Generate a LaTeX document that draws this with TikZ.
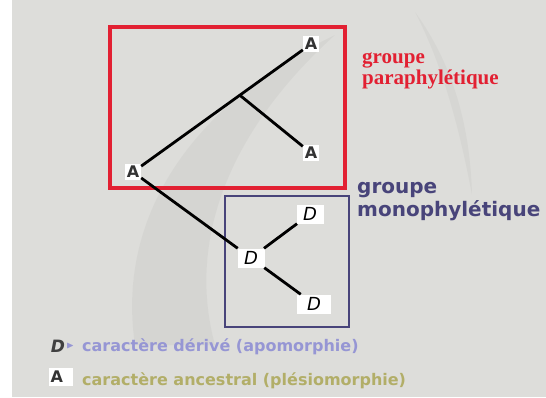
\documentclass[tikz,border=0pt]{standalone}
\usepackage{amssymb}
\usepackage{fontspec}
\setsansfont{DejaVu Sans}
\newfontfamily\paraFont{Liberation Serif}
\usetikzlibrary{positioning,calc}

\definecolor{bggray}{RGB}{221,221,218}
\definecolor{paraRed}{RGB}{226,32,50}
\definecolor{monoBlue}{RGB}{72,68,122}
\definecolor{apoLav}{RGB}{150,150,212}
\definecolor{plesioOlive}{RGB}{178,174,104}

\begin{document}
\begin{tikzpicture}[
  x=1pt, y=-1pt,
  taxonA/.style={fill=white, inner sep=1.8pt, text=black!80, font=\sffamily\bfseries\fontsize{16}{16}\selectfont},
  taxonD/.style={fill=white, inner sep=2.2pt, minimum width=27pt, minimum height=19pt,
    font=\sffamily\itshape\fontsize{18}{18}\selectfont},
  branch/.style={line width=2.8pt, black},
  paraText/.style={align=left, anchor=north west, inner sep=0pt, text=paraRed,
    font=\paraFont\bfseries\fontsize{21}{21}\selectfont},
  monoText/.style={align=left, anchor=north west, inner sep=0pt, text=monoBlue,
    font=\sffamily\bfseries\fontsize{20}{23}\selectfont},
  legendText/.style={anchor=west, inner sep=0pt, font=\sffamily\bfseries\fontsize{16}{16}\selectfont}
]
% background and faint logo
\fill[white] (0,0) rectangle (546,397);
\fill[bggray] (12,0) rectangle (546,397);
\useasboundingbox (0,0) rectangle (546,397);
\fill[gray, opacity=0.08] (135,345) .. controls (115,210) and (200,100) .. (335,35)
  .. controls (235,125) and (185,235) .. (215,345) -- cycle;
\fill[gray, opacity=0.07] (415,12) .. controls (450,60) and (470,120) .. (472,195)
  .. controls (458,120) and (440,60) .. (415,12) -- cycle;

% boxes
\draw[paraRed, line width=3.5pt] (110,27) rectangle (345,188);
\draw[monoBlue, line width=1.8pt] (225,196) rectangle (349,327);

% tree
\node[taxonA] (rootA) at (133,172) {A};
\node[taxonA] (topA) at (311,44) {A};
\node[taxonA] (midA) at (311,153) {A};
\coordinate (fork) at ($(rootA)!0.6!(topA)$);
\node[taxonD] (midD) at (251,258) {D};
\node[taxonD] (topD) at (310,214) {D};
\node[taxonD, minimum width=34pt] (botD) at (314,304) {D};

\draw[branch] (rootA) -- (topA);
\draw[branch] (fork) -- (midA);
\draw[branch] (rootA) -- (midD);
\draw[branch] (midD) -- (topD);
\draw[branch] (midD) -- (botD);

% group labels
\node[paraText] (paraLabel) at (362,53) {groupe\\paraphylétique};
\node[monoText] (monoLabel) at (357,182) {groupe\\monophylétique};

% legend
\node[font=\sffamily\bfseries\itshape\fontsize{17}{17}\selectfont, text=black!75, inner sep=1pt] (legD) at (58,346) {D};
\node[right=0pt of legD, inner sep=0pt, text=apoLav, font=\fontsize{10}{10}\selectfont] (legArrow) {$\blacktriangleright$};
\node[legendText, text=apoLav] (legDText) at (82,347) {caractère dérivé (apomorphie)};
\node[taxonA, minimum height=18pt, text width=21pt, align=left] (legA) at (61,377) {A};
\node[legendText, text=plesioOlive] (legAText) at (82,381) {caractère ancestral (plésiomorphie)};
\end{tikzpicture}
\end{document}
